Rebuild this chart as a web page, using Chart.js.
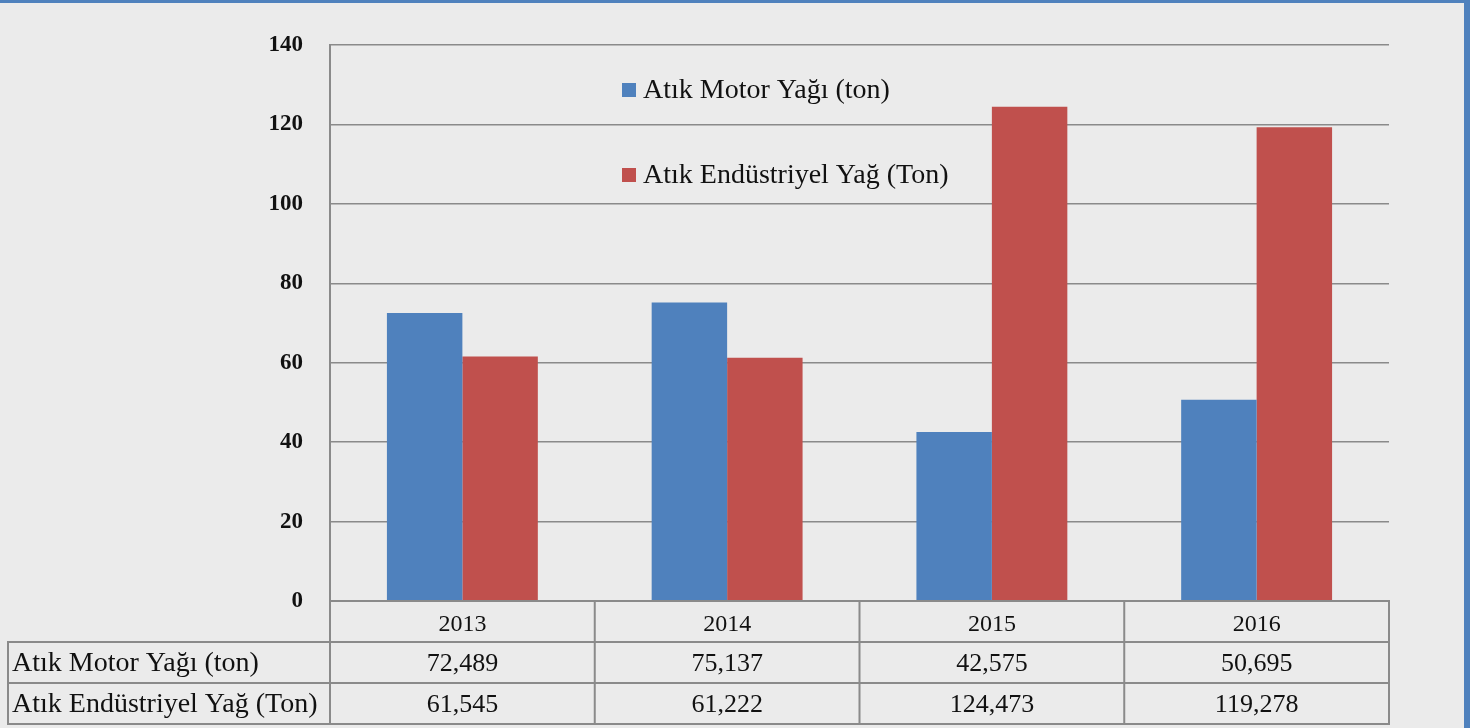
<!DOCTYPE html>
<html lang="tr">
<head>
    <meta charset="UTF-8">
    <title>Atık Yağ Miktarları</title>
    <script src="https://cdn.jsdelivr.net/npm/chart.js"></script>
    <style>
        html, body { margin: 0; padding: 0; background: #ebebeb; overflow: hidden; }
        canvas { display: block; }
    </style>
</head>
<body>
    <canvas id="yag-chart" width="1470" height="728"></canvas>

    <script>
        // values from the data table (ton)
        const years = ['2013', '2014', '2015', '2016'];
        const motorYagi = [72.489, 75.137, 42.575, 50.695];
        const endustriyelYag = [61.545, 61.222, 124.473, 119.278];
        const seriesNames = ['Atık Motor Yağı (ton)', 'Atık Endüstriyel Yağ (Ton)'];
        const yTicks = [0, 20, 40, 60, 80, 100, 120, 140];

        const BLUE = '#4f81bd';
        const RED = '#c0504d';
        const GRID = '#8a8a8a';
        const FONT = '"Liberation Serif", "DejaVu Serif", serif';

        function fmt(v) {
            return v.toFixed(3).replace('.', ',');
        }

        const backdrop = {
            id: 'backdrop',
            beforeDraw(chart) {
                const ctx = chart.ctx;
                ctx.save();
                ctx.fillStyle = '#ebebeb';
                ctx.fillRect(0, 0, chart.width, chart.height);
                ctx.restore();
            },
            afterDraw(chart) {
                const ctx = chart.ctx;
                ctx.save();
                ctx.fillStyle = BLUE;
                ctx.fillRect(0, 0, chart.width, 3);
                ctx.fillRect(chart.width - 6, 0, 6, chart.height);
                ctx.restore();
            }
        };

        // legend sits inside the plot, two rows
        const innerLegend = {
            id: 'innerLegend',
            afterDraw(chart) {
                const ctx = chart.ctx;
                const colors = [BLUE, RED];
                const x0 = 622;
                const rows = [90, 175];
                ctx.save();
                ctx.font = '28px ' + FONT;
                ctx.textBaseline = 'middle';
                seriesNames.forEach((name, i) => {
                    ctx.fillStyle = colors[i];
                    ctx.fillRect(x0, rows[i] - 7, 14, 14);
                    ctx.fillStyle = '#111';
                    ctx.fillText(name, x0 + 21, rows[i] + 1);
                });
                ctx.restore();
            }
        };

        // data table under the x axis
        const dataTable = {
            id: 'dataTable',
            afterDraw(chart) {
                const ctx = chart.ctx;
                const area = chart.chartArea;
                const x = chart.scales.x;
                const half = (x.getPixelForValue(1) - x.getPixelForValue(0)) / 2;
                const rowH = 41;
                const top = area.bottom;
                const left = 8;

                ctx.save();
                ctx.strokeStyle = GRID;
                ctx.lineWidth = 2;

                // header row (years)
                ctx.strokeRect(area.left, top, area.right - area.left, rowH);
                // value rows
                for (let r = 1; r <= 2; r++) {
                    ctx.strokeRect(left, top + r * rowH, area.right - left, rowH);
                }
                ctx.beginPath();
                ctx.moveTo(area.left, top + rowH);
                ctx.lineTo(area.left, top + 3 * rowH);
                years.forEach((y, i) => {
                    if (i === 0) return;
                    const cx = x.getPixelForValue(i) - half;
                    ctx.moveTo(cx, top);
                    ctx.lineTo(cx, top + 3 * rowH);
                });
                ctx.stroke();

                ctx.fillStyle = '#111';
                ctx.textBaseline = 'middle';
                ctx.textAlign = 'center';
                ctx.font = '24px ' + FONT;
                years.forEach((y, i) => {
                    const cx = x.getPixelForValue(i);
                    ctx.fillText(y, cx, top + rowH / 2 + 3);
                });
                ctx.font = '26px ' + FONT;
                years.forEach((y, i) => {
                    const cx = x.getPixelForValue(i);
                    ctx.fillText(fmt(motorYagi[i]), cx, top + rowH * 1.5 + 2);
                    ctx.fillText(fmt(endustriyelYag[i]), cx, top + rowH * 2.5 + 2);
                });

                ctx.textAlign = 'left';
                ctx.font = '28px ' + FONT;
                ctx.fillText(seriesNames[0], left + 4, top + rowH * 1.5 + 1);
                ctx.fillText(seriesNames[1], left + 4, top + rowH * 2.5 + 1);
                ctx.restore();
            }
        };

        const ctx = document.getElementById('yag-chart').getContext('2d');
        new Chart(ctx, {
            type: 'bar',
            data: {
                labels: years,
                datasets: [
                    { label: seriesNames[0], data: motorYagi, backgroundColor: BLUE },
                    { label: seriesNames[1], data: endustriyelYag, backgroundColor: RED }
                ]
            },
            options: {
                responsive: false,
                animation: false,
                layout: { padding: { left: 0, right: 81, top: 45, bottom: 127 } },
                datasets: { bar: { categoryPercentage: 0.57, barPercentage: 1.0 } },
                plugins: {
                    legend: { display: false },
                    tooltip: { enabled: false }
                },
                scales: {
                    x: {
                        display: false
                    },
                    y: {
                        min: 0,
                        max: 140,
                        afterFit(scale) { scale.width = 330; },
                        afterBuildTicks(scale) { scale.ticks = yTicks.map(v => ({ value: v })); },
                        ticks: {
                            padding: 27,
                            color: '#111',
                            font: { family: FONT, size: 23, weight: 'bold' }
                        },
                        grid: { color: GRID, lineWidth: 1.5, drawTicks: false },
                        border: { color: GRID, width: 2 }
                    }
                }
            },
            plugins: [backdrop, innerLegend, dataTable]
        });
    </script>
</body>
</html>
